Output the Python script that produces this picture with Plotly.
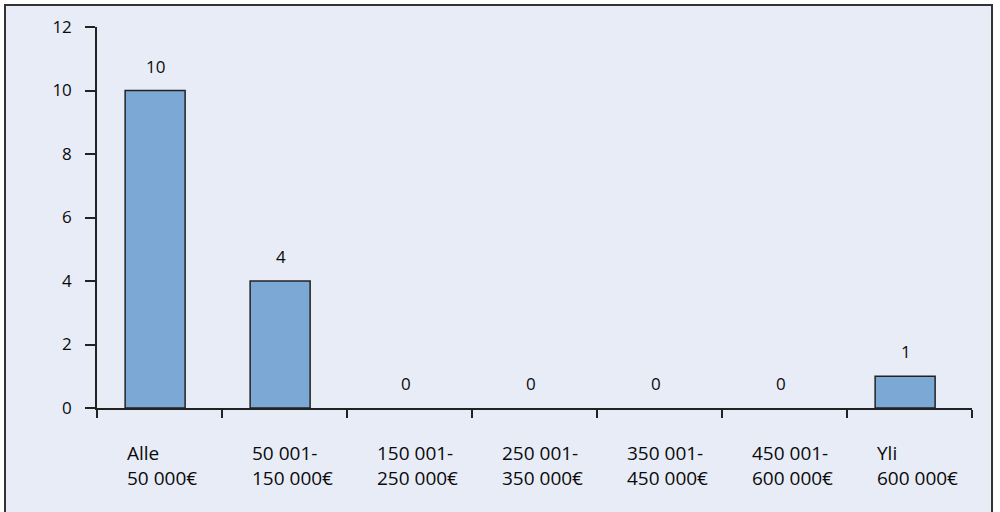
import plotly.graph_objects as go

categories = ["Alle<br>50 000€", "50 001-<br>150 000€", "150 001-<br>250 000€",
              "250 001-<br>350 000€", "350 001-<br>450 000€", "450 001-<br>600 000€",
              "Yli<br>600 000€"]
values = [10, 4, 0, 0, 0, 0, 1]
y_ticks = [0, 2, 4, 6, 8, 10, 12]

FONT = "Open Sans"
BG = "#E8ECF7"
BAR = "#7BA8D5"
TXT = "#0a0a0a"
idx = list(range(len(categories)))

fig = go.Figure()
fig.add_trace(go.Bar(
    x=idx, y=values, width=0.48, offset=-0.275,
    marker=dict(color=BAR, line=dict(color="#222222",
                                      width=[1.5 if v else 0 for v in values])),
    hoverinfo="skip", showlegend=False,
))

annotations = []
for i, (c, v) in enumerate(zip(categories, values)):
    annotations.append(dict(
        x=i - 0.03, y=v, xref="x", yref="y", text=str(v), showarrow=False,
        xanchor="center", yanchor="bottom", yshift=11,
        font=dict(family=FONT, size=17, color=TXT),
    ))
    annotations.append(dict(
        x=i - 0.275, y=0, xref="x", yref="y", text=c, showarrow=False,
        xanchor="left", yanchor="top", yshift=-30, align="left",
        font=dict(family=FONT, size=19, color=TXT),
    ))

fig.update_layout(
    width=1000, height=512,
    margin=dict(l=97, r=28, t=27, b=104),
    paper_bgcolor="white", plot_bgcolor=BG,
    font=dict(family=FONT, size=17, color=TXT),
    annotations=annotations,
    shapes=[dict(type="rect", xref="paper", yref="paper",
                 x0=(5 - 97) / 875, x1=(992 - 97) / 875,
                 y0=(408 - 520) / 381, y1=(408 - 5) / 381,
                 line=dict(color="#333333", width=2), fillcolor=BG, layer="below")],
    bargap=0.5,
)
fig.update_xaxes(
    range=[-0.5, len(categories) - 0.5],
    tickmode="array", tickvals=[i - 0.5 for i in range(len(categories) + 1)],
    showticklabels=False, ticks="outside", ticklen=8, tickcolor="#222222", tickwidth=1.5,
    showline=True, linecolor="#222222", linewidth=1.5, showgrid=False, zeroline=False,
    fixedrange=True,
)
fig.update_yaxes(
    range=[0, 12], tickvals=y_ticks, ticks="outside", ticklen=10,
    tickcolor="#222222", tickwidth=1.5, ticklabelstandoff=10,
    showline=True, linecolor="#222222", linewidth=1.5, showgrid=False, zeroline=False,
    tickfont=dict(family=FONT, size=17, color=TXT),
)

fig.write_html("out.html")
